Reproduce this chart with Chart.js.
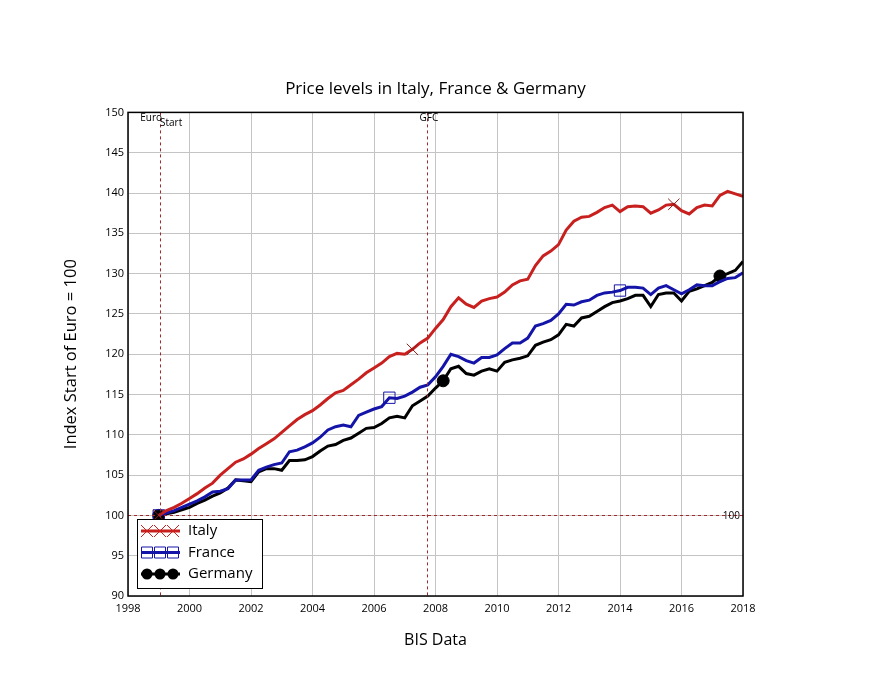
<!DOCTYPE html>
<html>
<head>
<meta charset="utf-8">
<script src="https://cdn.jsdelivr.net/npm/chart.js@4"></script>
<style>
  html, body { margin: 0; padding: 0; background: #fff; }
  #chart { display: block; }
</style>
</head>
<body>
<canvas id="chart" width="884" height="688"></canvas>
<script>
// quarterly sample points (decimal year)
const years = [];
for (let i = 0; i <= 76; i++) years.push(1999 + i * 0.25);

const italy = [
  100.0, 100.6, 101.0, 101.5, 102.1, 102.7, 103.4, 104.0,
  105.0, 105.8, 106.6, 107.0, 107.6, 108.3, 108.9, 109.5,
  110.3, 111.1, 111.9, 112.5, 113.0, 113.7, 114.5, 115.2,
  115.5, 116.2, 116.9, 117.7, 118.3, 118.9, 119.7, 120.1,
  120.0, 120.6, 121.4, 122.0, 123.2, 124.3, 125.9, 127.0,
  126.2, 125.8, 126.6, 126.9, 127.1, 127.7, 128.6, 129.1,
  129.3, 131.0, 132.2, 132.8, 133.6, 135.4, 136.5, 137.0,
  137.1, 137.6, 138.2, 138.5, 137.7, 138.3, 138.4, 138.3,
  137.5, 137.9, 138.5, 138.6, 137.8, 137.4, 138.2, 138.5,
  138.4, 139.7, 140.2, 139.9, 139.6
];
const france = [
  100.0, 100.3, 100.6, 101.0, 101.4, 101.8, 102.3, 102.9,
  103.0, 103.3, 104.4, 104.4, 104.4, 105.6, 106.0, 106.3,
  106.5, 107.9, 108.1, 108.5, 109.0, 109.7, 110.6, 111.0,
  111.2, 111.0, 112.4, 112.8, 113.2, 113.5, 114.6, 114.5,
  114.8, 115.3, 115.9, 116.2, 117.2, 118.5, 120.0, 119.7,
  119.2, 118.9, 119.6, 119.6, 119.9, 120.7, 121.4, 121.4,
  122.0, 123.5, 123.8, 124.2, 125.0, 126.2, 126.1, 126.5,
  126.7, 127.3, 127.6, 127.7, 127.9, 128.3, 128.3, 128.2,
  127.4, 128.2, 128.5, 128.0, 127.5, 128.0, 128.6, 128.5,
  128.5, 129.0, 129.4, 129.5, 130.1
];
const germany = [
  100.0, 100.2, 100.4, 100.7, 101.0, 101.5, 101.9, 102.4,
  102.8, 103.4, 104.4, 104.3, 104.2, 105.4, 105.8, 105.8,
  105.6, 106.8, 106.8, 106.9, 107.3, 108.0, 108.6, 108.8,
  109.3, 109.6, 110.2, 110.8, 110.9, 111.4, 112.1, 112.3,
  112.1, 113.6, 114.2, 114.8, 115.8, 116.7, 118.2, 118.5,
  117.6, 117.4, 117.9, 118.2, 117.9, 119.0, 119.3, 119.5,
  119.8, 121.1, 121.5, 121.8, 122.4, 123.7, 123.5, 124.5,
  124.7, 125.3, 125.9, 126.4, 126.6, 126.9, 127.3, 127.3,
  125.9, 127.4, 127.6, 127.6, 126.6, 127.8, 128.1, 128.5,
  128.9, 129.7, 130.0, 130.4, 131.5
];

// which points carry a marker
const italyMarks = [0, 33, 67];
const franceMarks = [0, 30, 60];
const germanyMarks = [0, 37, 73];

// event lines
const eventYears = [1999.04, 2007.72];
const eventLabels = ['Euro Start', 'GFC'];
const baseLevel = 100;

const FONT = "'Open Sans', 'DejaVu Sans', sans-serif";
const RED = '#c8201e';
const BLUE = '#1414a8';
const BLACK = '#000000';
const REFLINE = '#a02a2a';

function toPoints(vals) {
  return vals.map((v, i) => ({ x: years[i], y: v }));
}

function markRadius(marks, r) {
  return ctx => marks.includes(ctx.dataIndex) ? r : 0;
}

// dashed reference lines + their labels
const refLines = {
  id: 'refLines',
  afterDatasetsDraw(chart) {
    const ctx = chart.ctx;
    const xs = chart.scales.x, ys = chart.scales.y;
    const a = chart.chartArea;
    ctx.save();
    ctx.strokeStyle = REFLINE;
    ctx.lineWidth = 1;
    ctx.setLineDash([3, 3]);
    eventYears.forEach(yr => {
      const px = Math.round(xs.getPixelForValue(yr)) + 0.5;
      ctx.beginPath();
      ctx.moveTo(px, a.top);
      ctx.lineTo(px, a.bottom);
      ctx.stroke();
    });
    const py = Math.round(ys.getPixelForValue(baseLevel)) + 0.5;
    ctx.beginPath();
    ctx.moveTo(a.left, py);
    ctx.lineTo(a.right, py);
    ctx.stroke();
    ctx.setLineDash([]);

    ctx.fillStyle = '#000';
    ctx.font = '10px ' + FONT;
    ctx.textBaseline = 'top';
    const e0 = xs.getPixelForValue(eventYears[0]);
    const words = eventLabels[0].split(' ');
    ctx.textAlign = 'right';
    ctx.fillText(words[0], e0 + 2, a.top + 1);
    ctx.textAlign = 'left';
    ctx.fillText(words[1], e0, a.top + 6);
    const e1 = xs.getPixelForValue(eventYears[1]);
    ctx.textAlign = 'center';
    ctx.fillText(eventLabels[1], e1 + 2, a.top + 1);
    ctx.textAlign = 'right';
    ctx.textBaseline = 'middle';
    ctx.fillText(String(baseLevel), a.right - 3, py + 1);
    ctx.restore();
  }
};

function drawMarker(ctx, style, x, y, color) {
  ctx.save();
  ctx.strokeStyle = color;
  ctx.fillStyle = color;
  ctx.lineWidth = 1;
  ctx.beginPath();
  if (style === 'crossRot') {
    ctx.moveTo(x - 6, y - 6); ctx.lineTo(x + 6, y + 6);
    ctx.moveTo(x + 6, y - 6); ctx.lineTo(x - 6, y + 6);
    ctx.stroke();
  } else if (style === 'rect') {
    ctx.rect(x - 5.5, y - 5.5, 11, 11);
    ctx.stroke();
  } else {
    ctx.arc(x, y, 5.5, 0, Math.PI * 2);
    ctx.fill();
  }
  ctx.restore();
}

// boxed legend in the lower-left corner + plot frame
const boxLegend = {
  id: 'boxLegend',
  afterDraw(chart) {
    const ctx = chart.ctx;
    const a = chart.chartArea;
    ctx.save();
    ctx.strokeStyle = '#000';
    ctx.lineWidth = 1.5;
    ctx.strokeRect(a.left, a.top, a.right - a.left, a.bottom - a.top);

    const bx = a.left + 9, by = a.bottom - 77, bw = 125, bh = 69;
    ctx.fillStyle = '#fff';
    ctx.fillRect(bx, by, bw, bh);
    ctx.lineWidth = 1;
    ctx.strokeRect(bx + 0.5, by + 0.5, bw, bh);

    ctx.font = '15px ' + FONT;
    ctx.textBaseline = 'middle';
    ctx.textAlign = 'left';
    chart.data.datasets.forEach((ds, i) => {
      const y = by + 12 + i * 21.5;
      ctx.strokeStyle = ds.borderColor;
      ctx.lineWidth = 3;
      ctx.beginPath();
      ctx.moveTo(bx + 4, y);
      ctx.lineTo(bx + 43, y);
      ctx.stroke();
      [bx + 10, bx + 23, bx + 36].forEach(mx => drawMarker(ctx, ds.pointStyle, mx, y, ds.markColor));
      ctx.fillStyle = '#000';
      ctx.fillText(ds.label, bx + 51, y);
    });
    ctx.restore();
  }
};

new Chart(document.getElementById('chart'), {
  type: 'line',
  data: {
    datasets: [
      {
        label: 'Italy', data: toPoints(italy),
        borderColor: RED, borderWidth: 3, markColor: RED,
        pointStyle: 'crossRot', pointRadius: markRadius(italyMarks, 8),
        pointBorderColor: '#8a1a1a', pointBorderWidth: 1, pointBackgroundColor: 'rgba(0,0,0,0)'
      },
      {
        label: 'France', data: toPoints(france),
        borderColor: BLUE, borderWidth: 3, markColor: BLUE,
        pointStyle: 'rect', pointRadius: markRadius(franceMarks, 8),
        pointBorderColor: BLUE, pointBorderWidth: 1, pointBackgroundColor: 'rgba(0,0,0,0)'
      },
      {
        label: 'Germany', data: toPoints(germany),
        borderColor: BLACK, borderWidth: 3, markColor: BLACK,
        pointStyle: 'circle', pointRadius: markRadius(germanyMarks, 6),
        pointBorderColor: BLACK, pointBorderWidth: 1, pointBackgroundColor: BLACK
      }
    ]
  },
  options: {
    responsive: false,
    animation: false,
    events: [],
    layout: { padding: { top: 79, left: 58, right: 141, bottom: 38 } },
    plugins: {
      legend: { display: false },
      tooltip: { enabled: false },
      title: {
        display: true,
        fullSize: false,
        text: 'Price levels in Italy, France & Germany',
        color: '#000',
        font: { family: FONT, size: 17, weight: 'normal' },
        padding: { top: 0, bottom: 13 }
      }
    },
    scales: {
      x: {
        type: 'linear', min: 1998, max: 2018,
        afterFit: s => { s.height = 54; },
        grid: { color: '#c4c4c4', drawTicks: false },
        border: { display: false },
        ticks: {
          stepSize: 2, padding: 6, color: '#000', maxRotation: 0,
          font: { family: FONT, size: 11 },
          callback: v => String(v)
        },
        title: {
          display: true, text: 'BIS Data', color: '#000',
          font: { family: FONT, size: 16 }, padding: { top: 0, bottom: 0 }
        }
      },
      y: {
        min: 90, max: 150,
        afterFit: s => { s.width = 70; },
        grid: { color: '#c4c4c4', drawTicks: false },
        border: { display: false },
        ticks: {
          stepSize: 5, padding: 4, color: '#000',
          font: { family: FONT, size: 11 }
        },
        title: {
          display: true, text: 'Index Start of Euro = 100', color: '#000',
          font: { family: FONT, size: 16.5 }, padding: { top: 3, bottom: 0 }
        }
      }
    }
  },
  plugins: [refLines, boxLegend]
});
</script>
</body>
</html>
